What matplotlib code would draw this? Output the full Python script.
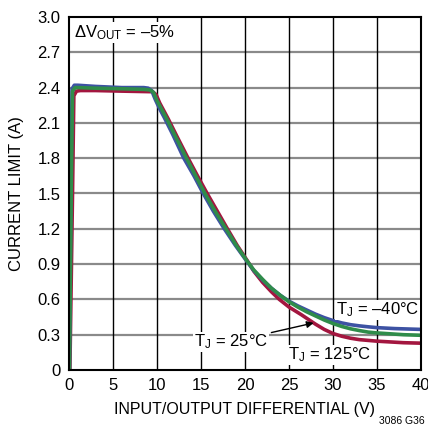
import matplotlib
matplotlib.use("Agg")
import matplotlib.pyplot as plt
from matplotlib import font_manager

fams = [f.name for f in font_manager.fontManager.ttflist]
FONT = 'Liberation Sans Narrow' if 'Liberation Sans Narrow' in fams else 'Liberation Sans'
plt.rcParams['font.family'] = [FONT, 'DejaVu Sans']
plt.rcParams['mathtext.fontset'] = 'custom'
plt.rcParams['mathtext.rm'] = FONT
plt.rcParams['mathtext.it'] = FONT

# Data
x_cold = [0.05, 0.2, 0.35, 0.6, 1, 3, 6, 8.5, 9.0, 9.4, 9.8, 10.3, 10.8, 11.8, 13.05, 14.2, 15.26, 16.4, 17.65, 18.9, 20.15,
          21, 22, 23, 24, 25, 26, 27, 28, 29, 30, 31, 32, 33, 34, 35, 37, 40]
i_cold = [0.0, 1.5, 2.39, 2.42, 2.42, 2.41, 2.40, 2.40, 2.395, 2.375, 2.30, 2.22, 2.15, 2.00, 1.80, 1.65, 1.50, 1.35, 1.20, 1.06, 0.93,
          0.845, 0.765, 0.695, 0.635, 0.585, 0.545, 0.51, 0.475, 0.445, 0.42, 0.40, 0.385, 0.375, 0.367, 0.36, 0.352, 0.345]

x_room = [0.05, 0.25, 0.4, 0.7, 1, 3, 6, 8.5, 9.2, 9.6, 10.0, 10.5, 11.0, 12.0, 13.35, 14.4, 15.45, 16.6, 17.84, 19.0, 20.2,
          21, 22, 23, 24, 25, 26, 27, 28, 29, 30, 31, 32, 33, 34, 35, 38, 40]
i_room = [0.0, 1.5, 2.37, 2.40, 2.40, 2.395, 2.39, 2.385, 2.38, 2.36, 2.29, 2.22, 2.15, 2.00, 1.80, 1.65, 1.50, 1.35, 1.20, 1.06, 0.93,
          0.85, 0.77, 0.695, 0.635, 0.58, 0.535, 0.495, 0.46, 0.425, 0.395, 0.37, 0.35, 0.335, 0.322, 0.315, 0.30, 0.295]

x_hot = [0.1, 0.4, 0.55, 0.85, 1.3, 3, 6, 9.5, 9.9, 10.3, 10.8, 11.3, 12.3, 13.6, 14.6, 15.7, 16.85, 18.0, 19.1, 20.25,
         21, 22, 23, 23.9, 25, 26.4, 28, 29, 30, 31, 32, 33, 35, 38, 40]
i_hot = [0.0, 1.5, 2.33, 2.37, 2.375, 2.375, 2.37, 2.365, 2.34, 2.27, 2.20, 2.13, 1.98, 1.79, 1.65, 1.50, 1.35, 1.20, 1.06, 0.93,
         0.84, 0.745, 0.665, 0.60, 0.535, 0.47, 0.39, 0.345, 0.31, 0.287, 0.27, 0.258, 0.245, 0.232, 0.228]

x_ticks = [0, 5, 10, 15, 20, 25, 30, 35, 40]
y_ticks = [0, 0.3, 0.6, 0.9, 1.2, 1.5, 1.8, 2.1, 2.4, 2.7, 3.0]
y_labels = ['0', '0.3', '0.6', '0.9', '1.2', '1.5', '1.8', '2.1', '2.4', '2.7', '3.0']

fig = plt.figure(figsize=(4.28, 4.36), dpi=100)
ax = fig.add_axes([69/428, 1 - 370/436, 352/428, 353/436])

for yv in y_ticks[1:-1]:
    ax.axhline(yv, color='#8a8a8a', lw=1.6, zorder=1)
for xv in x_ticks[1:-1]:
    ax.axvline(xv, color='black', lw=1.0, zorder=1)

ax.plot(x_hot, i_hot, color='#a3163f', lw=2.6, zorder=3, solid_capstyle='round')
ax.plot(x_cold, i_cold, color='#3d52a3', lw=2.6, zorder=3, solid_capstyle='round')
ax.plot(x_room, i_room, color='#2f8c4a', lw=2.6, zorder=4, solid_capstyle='round')

ax.set_xlim(0, 40)
ax.set_ylim(0, 3.0)
ax.set_xticks(x_ticks)
ax.set_yticks(y_ticks)
ax.set_yticklabels(y_labels)
ax.tick_params(length=0, labelsize=12, pad=6)
for s in ax.spines.values():
    s.set_linewidth(1.5)
    s.set_zorder(6)

ax.set_xlabel('INPUT/OUTPUT DIFFERENTIAL (V)', fontsize=11.5, labelpad=6)
ax.set_ylabel('CURRENT LIMIT (A)', fontsize=12, labelpad=10)

ax.text(0.6, 2.87, r'$\mathregular{\Delta V_{OUT}}$ = –5%', fontsize=12, va='center', ha='left', zorder=7,
        bbox=dict(facecolor='white', edgecolor='none', pad=1))
ax.text(30.3, 0.51, r'$\mathregular{T_J}$ = –40°C', fontsize=12, va='center', ha='left', zorder=7,
        bbox=dict(facecolor='white', edgecolor='none', pad=0.5))
ax.text(24.9, 0.13, r'$\mathregular{T_J}$ = 125°C', fontsize=12, va='center', ha='left', zorder=7,
        bbox=dict(facecolor='white', edgecolor='none', pad=0.5))
ax.annotate(r'$\mathregular{T_J}$ = 25°C', xy=(27.8, 0.40), xytext=(14.2, 0.24), fontsize=12,
            va='center', ha='left', zorder=7,
            bbox=dict(facecolor='white', edgecolor='none', pad=0.5),
            arrowprops=dict(arrowstyle='-|>', color='black', lw=1.0, mutation_scale=10,
                            shrinkA=2, shrinkB=0))

fig.text(425/428, 1 - 421/436, '3086 G36', fontsize=7.5, ha='right', va='center')

fig.savefig('out.png', dpi=100)
